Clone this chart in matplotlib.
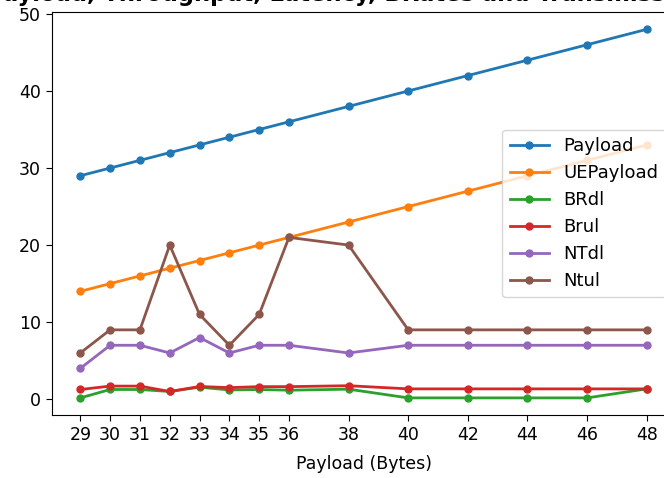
import matplotlib
matplotlib.use("Agg")
import matplotlib.pyplot as plt

# payload sizes (bytes) on the x axis
payload_bytes = [29, 30, 31, 32, 33, 34, 35, 36, 38, 40, 42, 44, 46, 48]

payload = [29, 30, 31, 32, 33, 34, 35, 36, 38, 40, 42, 44, 46, 48]
ue_payload = [14, 15, 16, 17, 18, 19, 20, 21, 23, 25, 27, 29, 31, 33]
br_dl = [0.17, 1.26, 1.26, 1.0, 1.56, 1.2, 1.26, 1.17, 1.3, 0.17, 0.17, 0.17, 0.17, 1.34]
br_ul = [1.26, 1.7, 1.7, 1.0, 1.65, 1.5, 1.63, 1.63, 1.75, 1.34, 1.34, 1.34, 1.34, 1.34]
nt_dl = [4, 7, 7, 6, 8, 6, 7, 7, 6, 7, 7, 7, 7, 7]
nt_ul = [6, 9, 9, 20, 11, 7, 11, 21, 20, 9, 9, 9, 9, 9]

series = [
    ("Payload", payload),
    ("UEPayload", ue_payload),
    ("BRdl", br_dl),
    ("Brul", br_ul),
    ("NTdl", nt_dl),
    ("Ntul", nt_ul),
]

fig = plt.figure(figsize=(6.64, 4.78), dpi=100)
# axes run slightly past the right edge of the canvas
ax = fig.add_axes([52 / 664, 63 / 478, 623 / 664, 403 / 478])

for name, vals in series:
    ax.plot(payload_bytes, vals, marker="o", markersize=5, linewidth=2, label=name)

ax.set_xticks(payload_bytes)
ax.set_yticks([0, 10, 20, 30, 40, 50])
ax.set_ylim(-2.05, 50.25)
ax.set_xlim(28.05, 48.95)
ax.tick_params(axis="both", labelsize=12.5, length=4.5)
ax.set_xlabel("Payload (Bytes)", fontsize=12.5, labelpad=8)
ax.set_title("Payload, Throughput, Latency, BRates and Transmission",
             fontsize=16.3, fontweight="bold", pad=8)
ax.title.set_x(0.472)
ax.legend(loc="center right", fontsize=13, handlelength=2.2)

fig.savefig("out.png", dpi=100)
